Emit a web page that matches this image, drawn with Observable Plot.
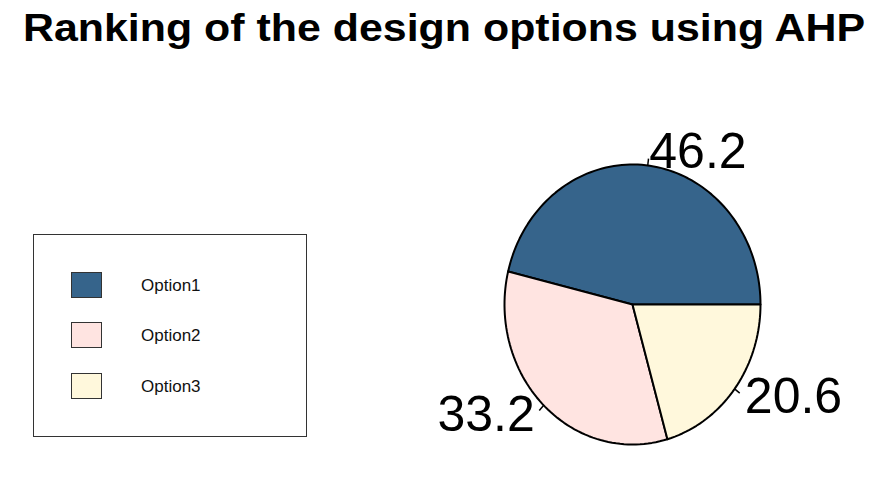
<!DOCTYPE html>
<html>
<head>
<meta charset="utf-8">
<script src="https://cdn.jsdelivr.net/npm/d3@7"></script>
<script src="https://cdn.jsdelivr.net/npm/@observablehq/plot@0.6"></script>
<style>
  body { margin: 0; background: #fff; font-family: "Liberation Sans", Arial, sans-serif; }
  #wrap { position: relative; width: 888px; height: 498px; overflow: hidden; background: #fff; }
  #title { position: absolute; left: 0; top: 8px; width: 888px; height: 39px; text-align: center;
           font-weight: bold; font-size: 39px; line-height: 39px; color: #000;
           transform: scaleX(1.1); transform-origin: 444px 0; white-space: nowrap; }
  #chart { position: absolute; left: 0; top: 60px; }
  #legend { position: absolute; left: 33px; top: 234px; width: 272px; height: 201px;
            border: 1.5px solid #333; background: #fff; }
  .item { position: absolute; left: 37px; height: 26px; }
  .sw { position: absolute; left: 0; top: 0; width: 29px; height: 24px; border: 1.2px solid #333; }
  .lab { position: absolute; left: 70px; top: 1px; line-height: 26px; font-size: 17px; color: #111; white-space: nowrap; }
</style>
</head>
<body>
<div id="wrap">
  <div id="title"></div>
  <div id="chart"></div>
  <div id="legend"></div>
</div>
<script>
const title = "Ranking of the design options using AHP";
const options = ["Option1", "Option2", "Option3"];
const values = [46.2, 33.2, 20.6];
const colors = ["#36648B", "#FFE4E1", "#FFF8DC"];

document.getElementById("title").textContent = title;

// slice geometry derived from the values (R pie: start at 0 rad, counter-clockwise)
const total = d3.sum(values);
let acc = 0;
const slices = values.map((v, i) => {
  const a0 = acc / total * 2 * Math.PI;
  acc += v;
  const a1 = acc / total * 2 * Math.PI;
  const n = Math.max(2, Math.ceil((a1 - a0) / (2 * Math.PI) * 200));
  const pts = [{x: 0, y: 0}];
  for (let k = 0; k <= n; k++) {
    const a = a0 + (a1 - a0) * k / n;
    pts.push({x: Math.cos(a), y: Math.sin(a)});
  }
  pts.push({x: 0, y: 0});
  const mid = (a0 + a1) / 2;
  return {option: options[i], value: v, color: colors[i], pts, mid};
});

const ticks = slices.map(s => ({
  x1: Math.cos(s.mid), y1: Math.sin(s.mid),
  x2: 1.05 * Math.cos(s.mid), y2: 1.05 * Math.sin(s.mid)
}));
const labels = slices.map(s => ({
  x: 1.1 * Math.cos(s.mid), y: 1.1 * Math.sin(s.mid),
  text: String(s.value), anchor: Math.cos(s.mid) < 0 ? "end" : "start"
}));

const cx = 632, cy = 244, rx = 128, ry = 140;
const plot = Plot.plot({
  width: 888,
  height: 438,
  margin: 0,
  x: {domain: [-1, 1], range: [cx - rx, cx + rx], axis: null},
  y: {domain: [-1, 1], range: [cy + ry, cy - ry], axis: null},
  style: {background: "transparent", overflow: "visible"},
  marks: [
    ...slices.map(s => Plot.line(s.pts, {x: "x", y: "y", fill: s.color, stroke: "#000", strokeWidth: 2, strokeLinejoin: "round"})),
    Plot.link(ticks, {x1: "x1", y1: "y1", x2: "x2", y2: "y2", stroke: "#000", strokeWidth: 1.5}),
    ...["start", "end"].map(an => Plot.text(labels.filter(d => d.anchor === an), {
      x: "x", y: "y", text: "text", textAnchor: an, fontSize: 50, fill: "#000",
      fontFamily: "Liberation Sans, Arial, sans-serif"
    }))
  ]
});
document.getElementById("chart").appendChild(plot);

// legend
const legend = d3.select("#legend");
const tops = [37, 87, 138];
options.forEach((o, i) => {
  const it = legend.append("div").attr("class", "item").style("top", tops[i] + "px");
  it.append("div").attr("class", "sw").style("background", colors[i]);
  it.append("div").attr("class", "lab").text(o);
});
</script>
</body>
</html>
